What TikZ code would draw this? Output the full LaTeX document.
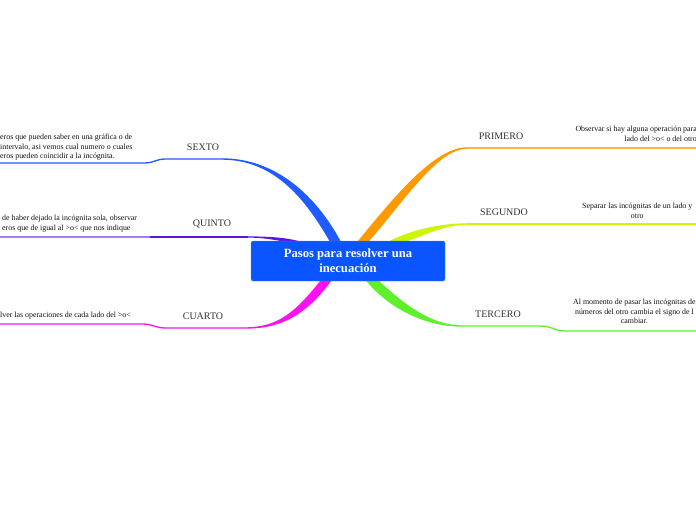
\documentclass[tikz,border=0pt]{standalone}
\usepackage{fontspec}
\setmainfont{Liberation Serif}
\usepackage{tikz}
\usetikzlibrary{positioning,calc}
\pgfdeclarelayer{bg}
\pgfsetlayers{bg,main}
\definecolor{Ink}{HTML}{111111}
\definecolor{Muted}{HTML}{333333}
\definecolor{HubBlue}{HTML}{0A55FF}
\definecolor{BrBlue}{HTML}{1F5BFF}
\definecolor{BrOrange}{HTML}{FF9900}
\definecolor{BrLime}{HTML}{CCF500}
\definecolor{BrGreen}{HTML}{5EF02A}
\definecolor{BrPurple}{HTML}{5A14E6}
\definecolor{BrLavender}{HTML}{A37CF7}
\definecolor{BrMagenta}{HTML}{FF10F0}

\begin{document}
\begin{tikzpicture}[x=1pt, y=-1pt,
  hub/.style={fill=HubBlue, draw=HubBlue!70!white, rounded corners=2pt,
    minimum width=194pt, minimum height=40pt, inner sep=0pt, align=center,
    text=white, font=\fontsize{12.6}{15}\selectfont\bfseries},
  tag/.style={inner sep=0pt, text=Muted, font=\fontsize{10}{12}\selectfont},
  note/.style={inner sep=0pt, text=Ink, font=\fontsize{7.9}{9.5}\selectfont},
  twig/.style={line width=1.3pt}
]
  \useasboundingbox (0,0) rectangle (696,520);
  \clip (0,0) rectangle (696,520);

  \node[hub] (hub) at (348,261) {Pasos para resolver una\\inecuación};

  % where the branches leave the hub and where they turn flat
  \coordinate (b1) at ([shift={(14,2)}]hub.north);
  \coordinate (b2) at ([shift={(45,2)}]hub.north);
  \coordinate (b3) at ([shift={(23,-2)}]hub.south);
  \coordinate (b4) at ([shift={(-12,2)}]hub.north);
  \coordinate (b5) at ([shift={(-50,2)}]hub.north);
  \coordinate (b6) at ([shift={(-21,-2)}]hub.south);
  \coordinate (e1) at (467,148);
  \coordinate (e2) at (467,224);
  \coordinate (e3) at (462,326);
  \coordinate (e4) at (222,159);
  \coordinate (e5) at (248,237);
  \coordinate (e6) at (245,328);
  \coordinate (t1) at (700,148);
  \coordinate (t2) at (700,224);
  \coordinate (t3) at (700,331);
  \coordinate (t4) at (-4,163);
  \coordinate (t5) at (-4,237);
  \coordinate (t6) at (-4,324);
  \coordinate (m5) at (150,237);

  \begin{pgfonlayer}{bg}
    \fill[white] (0,0) rectangle (696,520);
    \fill[BrOrange] ($(b1)+(-5.5,0)$) .. controls +(33,-40) and +(-34,0) .. ($(e1)+(0,-0.75)$)
      -- ($(e1)+(0,0.75)$) .. controls +(-30,0) and +(34,-38) .. ($(b1)+(5.5,0)$) -- cycle;
    \fill[BrLime] ($(b2)+(-7,0)$) .. controls +(22,-12) and +(-28,0) .. ($(e2)+(0,-0.7)$)
      -- ($(e2)+(0,0.7)$) .. controls +(-24,0) and +(20,-6) .. ($(b2)+(9,0)$) -- cycle;
    \fill[BrGreen] ($(b3)+(-6,0)$) .. controls +(22,28) and +(-38,0) .. ($(e3)+(0,0.7)$)
      -- ($(e3)+(0,-0.7)$) .. controls +(-33,0) and +(24,22) .. ($(b3)+(6,0)$) -- cycle;
    \fill[BrBlue] ($(b4)+(5.5,0)$) .. controls +(-25,-47) and +(54,0) .. ($(e4)+(0,-0.7)$)
      -- ($(e4)+(0,0.7)$) .. controls +(52,0) and +(-25,-44) .. ($(b4)+(-5.5,0)$) -- cycle;
    \fill[BrPurple] ($(b5)+(7,0)$) .. controls +(-16,-5) and +(24,0) .. ($(e5)+(0,-0.6)$)
      -- ($(e5)+(0,0.6)$) .. controls +(20,0) and +(-8,-1) .. ($(b5)+(-7,0)$) -- cycle;
    \fill[BrMagenta] ($(b6)+(5.5,0)$) .. controls +(-26,36) and +(36,0) .. ($(e6)+(0,0.7)$)
      -- ($(e6)+(0,-0.7)$) .. controls +(33,0) and +(-26,33) .. ($(b6)+(-5.5,0)$) -- cycle;
  \end{pgfonlayer}

  \draw[twig, BrOrange!75!white] (e1) -- (t1);
  \draw[twig, BrLime] (e2) -- (t2);
  \draw[twig, BrGreen] (e3) -- (540,326) .. controls (553,326) and (553,331) .. (566,331) -- (t3);
  \draw[twig, BrBlue] (e4) -- (166,159) .. controls (155,159) and (155,163) .. (144,163) -- (t4);
  \draw[twig, BrPurple] (e5) -- (m5);
  \draw[twig, BrLavender] (m5) -- (t5);
  \draw[twig, BrMagenta] (e6) -- (166,328) .. controls (154,328) and (154,324) .. (142,324) -- (t6);

  \node[tag] (primero) at (501,136) {PRIMERO};
  \node[tag] (segundo) at (504,212) {SEGUNDO};
  \node[tag] (tercero) at (498,314) {TERCERO};
  \node[tag] (sexto) at (203,147) {SEXTO};
  \node[tag] (quinto) at (212,224) {QUINTO};
  \node[tag] (cuarto) at (203,316) {CUARTO};

  \node[note, anchor=north east, align=right] (n1) at (697,126)
    {Observar si hay alguna operación para\\lado del >o< o del otro};
  \node[note, anchor=north west, align=center] (n2) at (582,203)
    {Separar las incógnitas de un lado y\\otro};
  \node[note, anchor=north west, align=center] (n3) at (573,299)
    {Al momento de pasar las incógnitas de\\números del otro cambia el signo de l\\cambiar.};
  \node[note, anchor=north west, align=flush left] (n6) at (0,134)
    {eros que pueden saber en una gráfica o de\\intervalo, asi vemos cual numero o cuales\\eros pueden coincidir a la incógnita.};
  \node[note, anchor=north west, align=flush left] (n5) at (2,215)
    {de haber dejado la incógnita sola, observar\\eros que de igual al >o< que nos indique};
  \node[note, anchor=west] (n4) at (0,316) {lver las operaciones de cada lado del >o<};
\end{tikzpicture}
\end{document}
